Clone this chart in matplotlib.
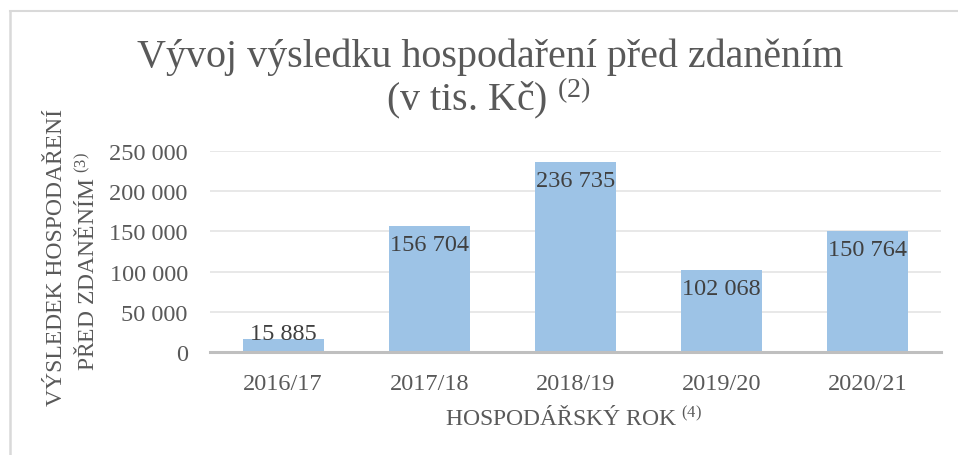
import matplotlib
matplotlib.use("Agg")
import matplotlib.pyplot as plt

# ---- data ----
categories = ["2016/17", "2017/18", "2018/19", "2019/20", "2020/21"]
values = [15885, 156704, 236735, 102068, 150764]
value_labels = ["15 885", "156 704", "236 735", "102 068", "150 764"]
yticks = [0, 50000, 100000, 150000, 200000, 250000]
ytick_labels = ["0", "50 000", "100 000", "150 000", "200 000", "250 000"]
title_line1 = "Vývoj výsledku hospodaření před zdaněním"
title_line2 = "(v tis. Kč) $^{\\mathrm{(2)}}$"
ylabel_line1 = "VÝSLEDEK HOSPODAŘENÍ"
ylabel_line2 = "PŘED ZDANĚNÍM $^{\\mathrm{(3)}}$"
xlabel = "HOSPODÁŘSKÝ ROK $^{\\mathrm{(4)}}$"

plt.rcParams["font.family"] = ["Liberation Serif", "DejaVu Serif"]
plt.rcParams["mathtext.fontset"] = "custom"
plt.rcParams["mathtext.rm"] = "Liberation Serif"
plt.rcParams["mathtext.it"] = "Liberation Serif:italic"
plt.rcParams["mathtext.bf"] = "Liberation Serif:bold"

TXT = "#595959"
BAR = "#9DC3E6"
GRID = "#e6e6e6"
AXIS = "#bfbfbf"

W, H = 958, 456
fig = plt.figure(figsize=(W / 100, H / 100), dpi=100)
fig.patch.set_facecolor("white")

# outer chart border (top and left visible)
fig.add_artist(plt.Line2D([10 / W, 1], [1 - 12 / H, 1 - 12 / H], color="#d9d9d9", lw=1.5,
                          transform=fig.transFigure))
fig.add_artist(plt.Line2D([10 / W, 10 / W], [0, 1 - 12 / H], color="#d9d9d9", lw=1.8,
                          transform=fig.transFigure))

ax = fig.add_axes([210 / W, 1 - 353 / H, (941 - 210) / W, (353 - 152) / H])
x = list(range(len(categories)))
bars = ax.bar(x, values, width=0.553, color=BAR, zorder=3)

ax.set_xlim(-0.5, len(categories) - 0.5)
ax.set_ylim(0, 250000)
ax.set_yticks(yticks)
ax.set_yticklabels(ytick_labels)
ax.set_xticks(x)
ax.set_xticklabels(categories)
ax.tick_params(axis="both", length=0, labelsize=17.5, colors=TXT)
ax.tick_params(axis="y", pad=16)
ax.tick_params(axis="x", pad=15)
ax.grid(axis="y", color=GRID, lw=1.3, zorder=0)
for s in ["top", "right", "left"]:
    ax.spines[s].set_visible(False)
ax.spines["bottom"].set_color(AXIS)
ax.spines["bottom"].set_linewidth(2.2)
ax.spines["bottom"].set_zorder(4)

for xi, v, lab in zip(x, values, value_labels):
    if v > 30000:
        ax.annotate(lab, (xi, v), xytext=(0, -24 * 0.72), textcoords="offset points",
                    ha="center", va="baseline", fontsize=17.5, color="#404040", zorder=5)
    else:
        ax.annotate(lab, (xi, v), xytext=(0, 0.5), textcoords="offset points",
                    ha="center", va="baseline", fontsize=17.5, color="#404040", zorder=5)

# title
fig.text(490 / W, 1 - 67 / H, title_line1, ha="center", va="baseline", fontsize=28.8, color=TXT)
fig.text(488 / W, 1 - 111 / H, title_line2, ha="center", va="baseline", fontsize=28.8, color=TXT)

# y label (two lines)
fig.text(57 / W, 1 - 257 / H, ylabel_line1, rotation=90, ha="center", va="center",
         fontsize=17, color=TXT)
fig.text(87 / W, 1 - 262 / H, ylabel_line2, rotation=90, ha="center", va="center",
         fontsize=17, color=TXT)

# x label
fig.text(574 / W, 1 - 425 / H, xlabel, ha="center", va="baseline", fontsize=17, color=TXT)

fig.savefig("out.png", dpi=100)
